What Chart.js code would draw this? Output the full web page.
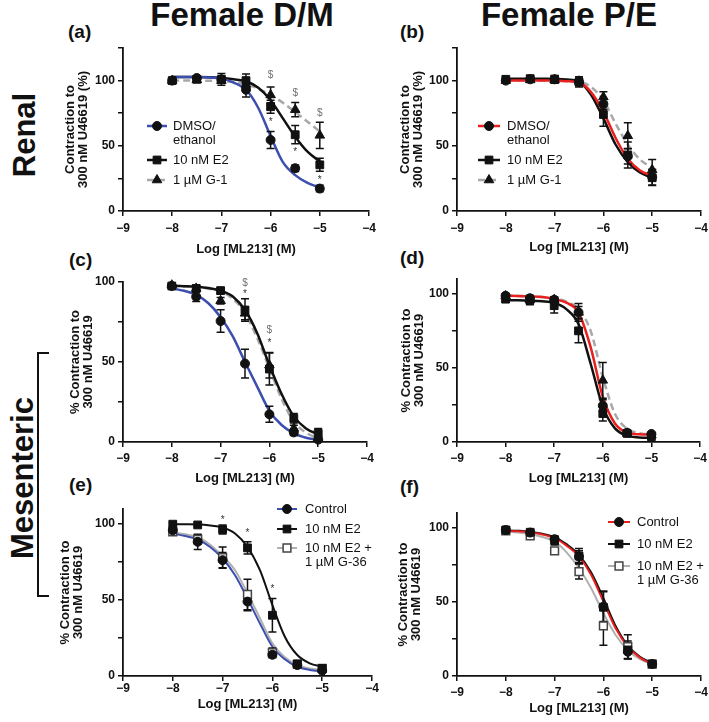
<!DOCTYPE html>
<html>
<head>
<meta charset="utf-8">
<title>ML213 concentration-response</title>
<script src="https://cdn.jsdelivr.net/npm/chart.js@4"></script>
<style>
  body { margin: 0; background: #fff; }
  #fig { position: relative; width: 709px; height: 722px; overflow: hidden; background: #fff;
         font-family: "Liberation Sans", Arial, sans-serif; color: #111; }
  #fig canvas { position: absolute; }
  .hd { position: absolute; font-weight: bold; font-size: 33px; line-height: 1; white-space: nowrap; transform: translateX(-50%); }
  .lbl { position: absolute; font-weight: bold; font-size: 19px; line-height: 1; }
  .row { position: absolute; font-weight: bold; font-size: 31px; line-height: 1; white-space: nowrap;
         transform: translate(-50%, -50%) rotate(-90deg); }
  #bracket { position: absolute; left: 37px; top: 352px; width: 10px; height: 241px;
             border: 2px solid #111; border-right: none; }
</style>
</head>
<body>
<div id="fig">
  <div class="hd" style="left:242px;top:-2px">Female D/M</div>
  <div class="hd" style="left:569px;top:-2px">Female P/E</div>
  <div class="lbl" style="left:68px;top:22px">(a)</div>
  <div class="lbl" style="left:400px;top:22px">(b)</div>
  <div class="lbl" style="left:69px;top:250px">(c)</div>
  <div class="lbl" style="left:400px;top:248px">(d)</div>
  <div class="lbl" style="left:69px;top:475px">(e)</div>
  <div class="lbl" style="left:400px;top:477px">(f)</div>
  <div class="row" style="left:24px;top:135px">Renal</div>
  <div class="row" style="left:22px;top:478px">Mesenteric</div>
  <div id="bracket"></div>
</div>
<script>
// x positions (log M) for fitted curves and for measured doses
const curveX = [-8, -7.75, -7.5, -7.25, -7, -6.75, -6.5, -6.25, -6, -5.75, -5.5, -5.25, -5];
const doseX = [-8, -7.5, -7, -6.5, -6, -5.5, -5];
const xTickValues = [-9, -8, -7, -6, -5, -4];
const yLabelValues = [0, 50, 100];

// (a) renal, female D/M
const aDmsoFit = [102.8, 102.8, 102.7, 102.3, 101.5, 98.5, 93, 79, 57.5, 37.5, 27.5, 21.5, 18];
const aE2Fit   = [102.8, 102.8, 102.7, 102.5, 102, 101, 99.5, 94.5, 85, 71, 57, 45.5, 38];
const aG1Fit   = [100, 100, 100, 99.9, 99.7, 98.8, 97.2, 93.8, 89, 83, 76, 68.5, 61];
const aDmso = [100, 102, 101, 93, 54.5, 32.8, 17.2];
const aDmsoErr = [1, 1.5, 2, 5.5, 6.5, 2.5, 2.5];
const aE2 = [100, 101, 101, 100, 80, 58.5, 35.4];
const aE2Err = [1, 1.5, 4.5, 5, 5, 7, 5];
const aG1 = [100, 100.5, 100, 97, 89, 77.7, 58];
const aG1Err = [1, 1, 2, 3, 6, 5.5, 10];
const aMarks = [['$', -6, 104], ['$', -5.5, 90.5], ['$', -5, 75], ['*', -6, 70], ['*', -5.5, 47], ['*', -5, 26]];

// (b) renal, female P/E
const bDmsoFit = [100, 100, 100, 100, 100, 99.5, 98.5, 91, 76, 56, 40, 31, 27];
const bE2Fit   = [101.5, 101.5, 101.5, 101.4, 101.3, 100.8, 99, 89, 71, 51, 37.5, 29.5, 25.5];
const bG1Fit   = [100, 100, 100, 100, 100, 99.8, 99.5, 95, 85, 67, 51, 39.5, 33];
const bDmso = [100, 101, 101, 99, 82, 42, 26];
const bDmsoErr = [1, 1, 2, 3, 4, 6, 6];
const bE2 = [101, 101.5, 101, 99, 74, 43, 25.5];
const bE2Err = [1, 2, 3, 4, 9, 10, 6];
const bG1 = [100, 100.5, 100.5, 99.5, 87.4, 57.7, 31.5];
const bG1Err = [1, 1, 2, 2, 4, 10, 8];

// (c) mesenteric, female D/M
const cDmsoFit = [96, 94.5, 92, 86.7, 78, 66, 50, 34.6, 19.5, 10.6, 5.4, 2.7, 1.3];
const cE2Fit   = [97.7, 97.4, 97, 96.2, 94.6, 91, 82.5, 68, 48, 30, 16, 8.5, 4.8];
const cG1Fit   = [97.5, 97.2, 96.8, 95.8, 94, 89.5, 80.5, 65, 46, 27, 12.7, 5.8, 2.3];
const cDmso = [97.5, 90.8, 75.6, 49, 17.3, 6, 1.5];
const cDmsoErr = [1, 3, 7, 9, 5, 2, 1];
const cE2 = [97.5, 96, 94.6, 82.5, 45.6, 14.8, 5.4];
const cE2Err = [1, 2, 2, 7, 10, 3, 3];
const cG1 = [98, 96, 88.3, 80.4, 48, 8.5, 2.3];
const cG1Err = [1, 1, 2, 4, 8, 2, 1];
const cMarks = [['$', -6.5, 99], ['*', -6.5, 94], ['$', -6, 69.6], ['*', -6, 63.5]];

// (d) mesenteric, female P/E
const dDmsoFit = [98.7, 98.5, 98.2, 97.8, 96.4, 94, 87.5, 64, 30.4, 12.5, 6.3, 5.2, 5];
const dE2Fit   = [95.7, 95.6, 95.4, 95, 94, 89.7, 79.6, 52.8, 23.7, 9.2, 4.3, 3.1, 2.7];
const dG1Fit   = [98.7, 98.6, 98.3, 97.8, 97, 94.8, 89.7, 75, 43.8, 19, 9, 6, 5];
const dDmso = [98.7, 97, 96, 87.5, 24.5, 6.3, 5.4];
const dDmsoErr = [1.5, 2, 2, 4, 4, 1, 1];
const dE2 = [96.4, 95.7, 92, 75, 19.2, 5.8, 3.6];
const dE2Err = [1.5, 3, 5, 8, 5, 1, 1];
const dG1 = [98.5, 96, 96, 87.5, 41.6, 5.8, 4.7];
const dG1Err = [1, 2, 2, 6, 12, 1, 1];

// (e) mesenteric D/M with G-36
const eCtrlFit = [93.8, 92.2, 90, 85, 77.4, 66.4, 51, 34.6, 19.3, 11, 6, 4, 3];
const eE2Fit   = [100, 99.9, 99.8, 99.2, 97.8, 93.9, 85, 69.7, 46.7, 25.9, 13.8, 8.3, 6.1];
const eG36Fit  = [94.7, 93.3, 91.5, 86.5, 79, 69.7, 54.4, 38, 21.5, 12.3, 7.2, 5, 4];
const eCtrl = [96, 88.4, 76.3, 49, 14, 7.2, 3.5];
const eCtrlErr = [2, 5, 5, 6, 2, 1.5, 1];
const eE2 = [100, 99.5, 96.5, 84.4, 40, 8, 5];
const eE2Err = [1, 1, 3, 4, 11, 1.5, 2];
const eG36 = [95, 90, 78, 53.7, 15.4, 7.7, 5];
const eG36Err = [2, 3, 7, 10, 3, 1.5, 1.5];
const eMarks = [['*', -7, 104.4], ['*', -6.5, 96], ['*', -6, 59]];

// (f) mesenteric P/E with G-36
const fCtrlFit = [98, 97.7, 97, 95.5, 93, 87.8, 80.6, 68.2, 50.2, 32.2, 19.8, 12.4, 8.1];
const fE2Fit   = [98.3, 98, 97.4, 96, 93.7, 88.8, 81.8, 69.8, 52.5, 33.8, 20.5, 13, 8.6];
const fG36Fit  = [97.5, 96.8, 95.7, 93.8, 90.8, 83.3, 72.7, 59.2, 42.3, 27.7, 17.6, 11.3, 8.1];
const fCtrl = [98.5, 96.8, 92.3, 80.6, 46.8, 16.4, 8.1];
const fCtrlErr = [1, 1, 2, 4, 10, 5, 1];
const fE2 = [98.6, 97, 91.4, 81, 46.4, 17.6, 8.1];
const fE2Err = [1, 1.5, 3, 5, 11, 6, 1];
const fG36 = [98, 94.6, 84.5, 70.5, 33.8, 19.8, 8];
const fG36Err = [1, 1.5, 2, 5, 13, 8, 1];

const INK = '#111';
const BLUE = '#3C4FAE';
const RED = '#E8201F';
const GREY = '#A8A8A8';
const LIGHT = '#B0B0B0';
const FONT = '"Liberation Sans", Arial, sans-serif';
const radius = { circle: 4.5, rect: 5.5, triangle: 5.5 };

const titleRenal = ['Contraction to', '300 nM U46619 (%)'];
const titleMes = ['% Contraction to', '300 nM U46619'];
const dmsoLabel = ['DMSO/', 'ethanol'];

const panels = [
  { L: 123, T: 48, R: 369, B: 211, yMax: 125, xPad: 5, xh: 46, yTitle: titleRenal, t1: 70,
    series: [
      { label: dmsoLabel, color: BLUE, width: 2.5, style: 'circle', fit: aDmsoFit, mean: aDmso, err: aDmsoErr },
      { label: ['10 nM E2'], color: INK, width: 2.5, style: 'rect', fit: aE2Fit, mean: aE2, err: aE2Err },
      { label: ['1 µM G-1'], color: GREY, width: 2.5, dash: [7, 4], style: 'triangle', fit: aG1Fit, mean: aG1, err: aG1Err }],
    legend: { x0: 147, len: 20, tx: 173, ys: [126, 160, 180] }, marks: aMarks },
  { L: 457, T: 48, R: 701, B: 211, yMax: 125, xPad: 5, xh: 44, yTitle: titleRenal, t1: 405,
    series: [
      { label: dmsoLabel, color: RED, width: 2.5, style: 'circle', fit: bDmsoFit, mean: bDmso, err: bDmsoErr },
      { label: ['10 nM E2'], color: INK, width: 2.5, style: 'rect', fit: bE2Fit, mean: bE2, err: bE2Err },
      { label: ['1 µM G-1'], color: GREY, width: 2.5, dash: [7, 4], style: 'triangle', fit: bG1Fit, mean: bG1, err: bG1Err }],
    legend: { x0: 478, len: 22, tx: 507, ys: [126, 160, 180] }, marks: [] },
  { L: 123, T: 282, R: 367, B: 442, yMax: 100, xPad: 4, xh: 44, yTitle: titleMes, t1: 75,
    series: [
      { color: BLUE, width: 2.5, style: 'circle', fit: cDmsoFit, mean: cDmso, err: cDmsoErr },
      { color: INK, width: 2.5, style: 'rect', fit: cE2Fit, mean: cE2, err: cE2Err },
      { color: GREY, width: 2.5, dash: [7, 4], style: 'triangle', fit: cG1Fit, mean: cG1, err: cG1Err }],
    marks: cMarks },
  { L: 457, T: 279, R: 700, B: 442, yMax: 110, xPad: 4, xh: 44, yTitle: titleMes, t1: 406,
    series: [
      { color: RED, width: 2.5, style: 'circle', fit: dDmsoFit, mean: dDmso, err: dDmsoErr },
      { color: INK, width: 2.5, style: 'rect', fit: dE2Fit, mean: dE2, err: dE2Err },
      { color: GREY, width: 2.5, dash: [7, 4], style: 'triangle', fit: dG1Fit, mean: dG1, err: dG1Err }],
    marks: [] },
  { L: 123, T: 509, R: 372, B: 676, yMax: 110, xPad: 0, xh: 36, yTitle: titleMes, t1: 65,
    series: [
      { label: ['Control'], color: BLUE, width: 2, style: 'circle', fit: eCtrlFit, mean: eCtrl, err: eCtrlErr },
      { label: ['10 nM E2'], color: INK, width: 2, style: 'rect', fit: eE2Fit, mean: eE2, err: eE2Err },
      { label: ['10 nM E2 +', '1 µM G-36'], color: LIGHT, width: 2, style: 'rect', open: true, fit: eG36Fit, mean: eG36, err: eG36Err }],
    legend: { x0: 277, len: 20, tx: 305, ys: [509, 529, 548] }, marks: eMarks },
  { L: 457, T: 513, R: 701, B: 676, yMax: 110, xPad: 4, xh: 40, yTitle: titleMes, t1: 403,
    series: [
      { label: ['Control'], color: RED, width: 2, style: 'circle', fit: fCtrlFit, mean: fCtrl, err: fCtrlErr },
      { label: ['10 nM E2'], color: INK, width: 2, style: 'rect', fit: fE2Fit, mean: fE2, err: fE2Err },
      { label: ['10 nM E2 +', '1 µM G-36'], color: LIGHT, width: 2, style: 'rect', open: true, fit: fG36Fit, mean: fG36, err: fG36Err }],
    legend: { x0: 608, len: 22, tx: 637, ys: [522, 544, 566] }, marks: [] }
];

function marker(ctx, style, x, y, open) {
  const r = radius[style];
  ctx.save();
  ctx.fillStyle = open ? '#fff' : INK;
  ctx.strokeStyle = open ? '#444' : INK;
  ctx.lineWidth = open ? 1.5 : 1;
  ctx.setLineDash([]);
  ctx.beginPath();
  if (style === 'circle') ctx.arc(x, y, r, 0, Math.PI * 2);
  else if (style === 'rect') { const h = r * Math.SQRT1_2; ctx.rect(x - h, y - h, 2 * h, 2 * h); }
  else { ctx.moveTo(x, y - r); ctx.lineTo(x + r * 0.87, y + r * 0.5); ctx.lineTo(x - r * 0.87, y + r * 0.5); ctx.closePath(); }
  ctx.fill(); ctx.stroke();
  ctx.restore();
}

// error bars: drawn once, between the curves and the markers
const errorBars = {
  id: 'errorBars',
  beforeDatasetsDraw(chart) { chart.$barsDone = false; },
  beforeDatasetDraw(chart, args) {
    const ds = chart.data.datasets[args.index];
    if (!ds.err || chart.$barsDone) return;
    chart.$barsDone = true;
    const ctx = chart.ctx, xs = chart.scales.x, ys = chart.scales.y;
    ctx.save();
    ctx.strokeStyle = INK; ctx.lineWidth = 1.5;
    chart.data.datasets.forEach(d => {
      if (!d.err) return;
      d.data.forEach((p, i) => {
        const px = xs.getPixelForValue(p.x);
        const y1 = ys.getPixelForValue(p.y + d.err[i]);
        const y2 = ys.getPixelForValue(p.y - d.err[i]);
        ctx.beginPath();
        ctx.moveTo(px, y1); ctx.lineTo(px, y2);
        ctx.moveTo(px - 4, y1); ctx.lineTo(px + 4, y1);
        ctx.moveTo(px - 4, y2); ctx.lineTo(px + 4, y2);
        ctx.stroke();
      });
    });
    ctx.restore();
  }
};

// significance symbols and the hand-placed legends
const extras = {
  id: 'extras',
  afterDraw(chart, args, opts) {
    const ctx = chart.ctx, p = opts.panel;
    ctx.save();
    ctx.textAlign = 'center'; ctx.textBaseline = 'middle';
    (p.marks || []).forEach(([t, x, y]) => {
      ctx.font = '10px ' + FONT;
      ctx.fillStyle = t === '$' ? '#707070' : '#333';
      ctx.fillText(t, chart.scales.x.getPixelForValue(x), chart.scales.y.getPixelForValue(y) + (t === '*' ? 3 : 0));
    });
    if (p.legend) {
      const lg = p.legend, ox = opts.left, oy = opts.top;
      ctx.font = '13px ' + FONT; ctx.textAlign = 'left'; ctx.fillStyle = INK;
      p.series.forEach((s, k) => {
        const y = lg.ys[k] - oy, x0 = lg.x0 - ox;
        ctx.save();
        ctx.strokeStyle = s.color; ctx.lineWidth = s.width; ctx.setLineDash(s.dash || []);
        ctx.beginPath(); ctx.moveTo(x0, y); ctx.lineTo(x0 + lg.len, y); ctx.stroke();
        ctx.restore();
        marker(ctx, s.style, x0 + lg.len / 2, y, s.open);
        s.label.forEach((line, j) => ctx.fillText(line, lg.tx - ox, y + j * 14));
      });
    }
    ctx.restore();
  }
};

const fig = document.getElementById('fig');

panels.forEach(p => {
  const left = p.L - 70, top = p.T - 14;
  const w = p.R + 14 - left, h = p.B + p.xh - top;
  const cv = document.createElement('canvas');
  cv.width = w; cv.height = h;
  cv.style.left = left + 'px'; cv.style.top = top + 'px';
  cv.style.width = w + 'px'; cv.style.height = h + 'px';
  fig.appendChild(cv);

  const datasets = [];
  p.series.forEach(s => datasets.push({
    data: curveX.map((x, i) => ({ x, y: s.fit[i] })),
    borderColor: s.color, borderWidth: s.width, borderDash: s.dash || [],
    pointRadius: 0, cubicInterpolationMode: 'monotone', fill: false, order: 1, clip: false
  }));
  p.series.forEach(s => datasets.push({
    data: doseX.map((x, i) => ({ x, y: s.mean[i] })),
    showLine: false, pointStyle: s.style, pointRadius: radius[s.style], pointHoverRadius: radius[s.style],
    pointBackgroundColor: s.open ? '#fff' : INK, pointBorderColor: s.open ? '#444' : INK,
    pointBorderWidth: s.open ? 1.5 : 1, order: 0, clip: false, err: s.err
  }));

  new Chart(cv, {
    type: 'line',
    data: { datasets },
    options: {
      responsive: false, animation: false, devicePixelRatio: 1,
      layout: { padding: { left: 0, top: 14, right: 14, bottom: 0 } },
      plugins: { legend: { display: false }, tooltip: { enabled: false },
                 extras: { panel: p, left, top } },
      scales: {
        x: {
          type: 'linear', min: -9, max: -4,
          afterFit: s => { s.height = p.xh; },
          afterBuildTicks: s => { s.ticks = xTickValues.map(v => ({ value: v })); },
          ticks: { color: INK, padding: p.xPad, maxRotation: 0,
                   font: { family: FONT, size: 12, weight: 'bold' },
                   callback: v => (v < 0 ? '\u2212' : '') + Math.abs(v) },
          grid: { drawOnChartArea: false, drawTicks: true, tickLength: 5, color: INK, lineWidth: 1.5 },
          border: { color: INK, width: 1.8 },
          title: { display: true, text: 'Log [ML213] (M)', color: INK, padding: 0,
                   font: { family: FONT, size: 13, weight: 'bold', lineHeight: 1.2 } }
        },
        y: {
          min: 0, max: p.yMax,
          afterFit: s => { s.width = 70; },
          ticks: { stepSize: 25, includeBounds: false, color: INK, padding: 3,
                   font: { family: FONT, size: 12, weight: 'bold' },
                   callback: v => yLabelValues.includes(v) ? String(v) : '' },
          grid: { drawOnChartArea: false, drawTicks: true, tickLength: 5, color: INK, lineWidth: 1.5 },
          border: { color: INK, width: 1.8 },
          title: { display: true, text: p.yTitle, color: INK,
                   padding: { top: p.t1 - left - 6.5, bottom: 0 },
                   font: { family: FONT, size: 13, weight: 'bold', lineHeight: 1 } }
        }
      }
    },
    plugins: [errorBars, extras]
  });
});
</script>
</body>
</html>
